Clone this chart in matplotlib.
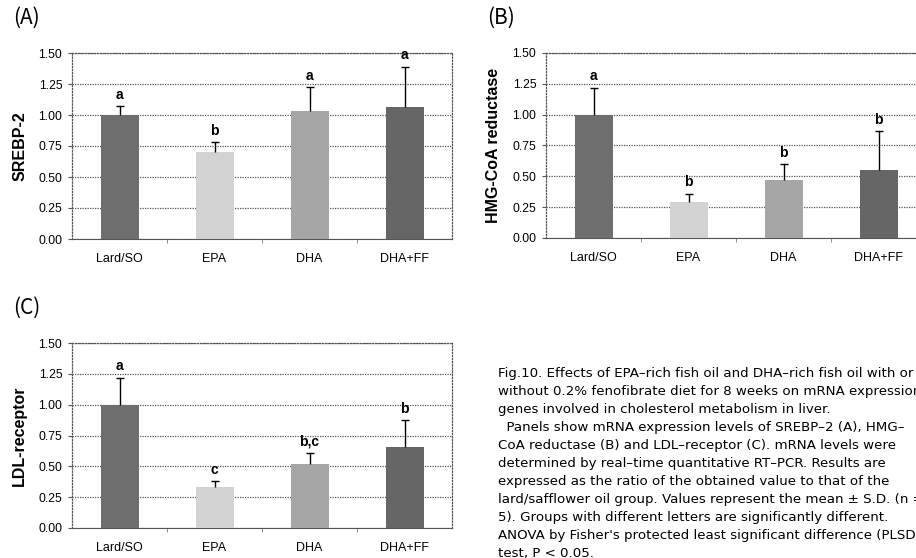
import numpy as np
import matplotlib.pyplot as plt

groups = ["Lard/SO", "EPA", "DHA", "DHA+FF"]
bar_colors = ["#6e6e6e", "#d2d2d2", "#a6a6a6", "#666666"]

# mean and upper S.D. for each gene
srebp2 = [1.00, 0.70, 1.03, 1.065]
srebp2_sd = [0.075, 0.08, 0.195, 0.325]
srebp2_sig = ["a", "b", "a", "a"]

hmgcoa = [1.00, 0.29, 0.47, 0.55]
hmgcoa_sd = [0.22, 0.07, 0.13, 0.32]
hmgcoa_sig = ["a", "b", "b", "b"]

ldlr = [1.00, 0.33, 0.52, 0.66]
ldlr_sd = [0.22, 0.05, 0.09, 0.215]
ldlr_sig = ["a", "c", "b,c", "b"]

yticks = [0.0, 0.25, 0.5, 0.75, 1.0, 1.25, 1.5]

caption = [
    "Fig.10. Effects of EPA\u2013rich fish oil and DHA\u2013rich fish oil with or",
    "without 0.2% fenofibrate diet for 8 weeks on mRNA expression of",
    "genes involved in cholesterol metabolism in liver.",
    "  Panels show mRNA expression levels of SREBP\u20132 (A), HMG\u2013",
    "CoA reductase (B) and LDL\u2013receptor (C). mRNA levels were",
    "determined by real\u2013time quantitative RT\u2013PCR. Results are",
    "expressed as the ratio of the obtained value to that of the",
    "lard/safflower oil group. Values represent the mean \u00b1 S.D. (n =",
    "5). Groups with different letters are significantly different.",
    "ANOVA by Fisher's protected least significant difference (PLSD)",
    "test, P < 0.05.",
]

plt.rcParams["font.family"] = ["Liberation Sans", "DejaVu Sans"]

W, H = 916, 558
fig = plt.figure(figsize=(W / 100, H / 100), dpi=100)


def px_axes(left, top, right, bottom):
    return fig.add_axes([left / W, 1 - bottom / H, (right - left) / W, (bottom - top) / H])


def panel(ax, vals, sd, sig, ylabel):
    x = np.arange(len(groups))
    ax.bar(x, vals, width=0.4, color=bar_colors, zorder=3)
    # upper S.D. only
    _, caps, _ = ax.errorbar(x, vals, yerr=[np.zeros(len(sd)), sd], fmt="none",
                             ecolor="black", elinewidth=1, capsize=3, capthick=1, zorder=4)
    caps[0].set_visible(False)
    for xi, v, s, t in zip(x, vals, sd, sig):
        ax.annotate(t, (xi, v + s), xytext=(0, 3), textcoords="offset points",
                    ha="center", va="bottom", fontsize=10, fontweight="bold")
    ax.set_xlim(-0.5, 3.5)
    ax.set_ylim(0, 1.5)
    ax.set_yticks(yticks)
    ax.set_yticklabels([f"{t:.2f}" for t in yticks])
    ax.set_xticks(x)
    ax.set_xticklabels(groups)
    ax.tick_params(axis="x", length=0, labelsize=9, pad=10)
    ax.tick_params(axis="y", length=3, labelsize=8.8, color="#555555", pad=4)
    ax.set_xticks([0.5, 1.5, 2.5], minor=True)
    ax.tick_params(axis="x", which="minor", length=3, color="#777777")
    ax.yaxis.grid(True, linestyle=(0, (1, 1)), color="#555555", linewidth=0.9, zorder=0)
    for side in ["top", "right", "left"]:
        ax.spines[side].set_linestyle((0, (1, 1.5)))
        ax.spines[side].set_color("#555555")
        ax.spines[side].set_linewidth(0.9)
    ax.spines["bottom"].set_color("#555555")
    ax.spines["bottom"].set_linestyle((0, (2, 1)))
    ax.set_ylabel(ylabel, fontsize=11.5, fontweight="bold", labelpad=8)


axA = px_axes(72, 53, 452, 239)
panel(axA, srebp2, srebp2_sd, srebp2_sig, "SREBP-2")

axB = px_axes(546, 53, 926, 238)
panel(axB, hmgcoa, hmgcoa_sd, hmgcoa_sig, "HMG-CoA reductase")

axC = px_axes(72, 343, 452, 528)
panel(axC, ldlr, ldlr_sd, ldlr_sig, "LDL-receptor")

for label, (x, y) in zip(["(A)", "(B)", "(C)"], [(13, 18), (487, 18), (13, 308)]):
    fig.text(x / W, 1 - y / H, label, fontsize=15, va="center", ha="left",
             family=["Noto Sans CJK JP", "DejaVu Sans"])

for i, line in enumerate(caption):
    fig.text(498 / W, 1 - (373 + 18 * i) / H, line, fontsize=9.6, va="center", ha="left",
             family=["DejaVu Sans"])

fig.savefig("out.png", dpi=100)
